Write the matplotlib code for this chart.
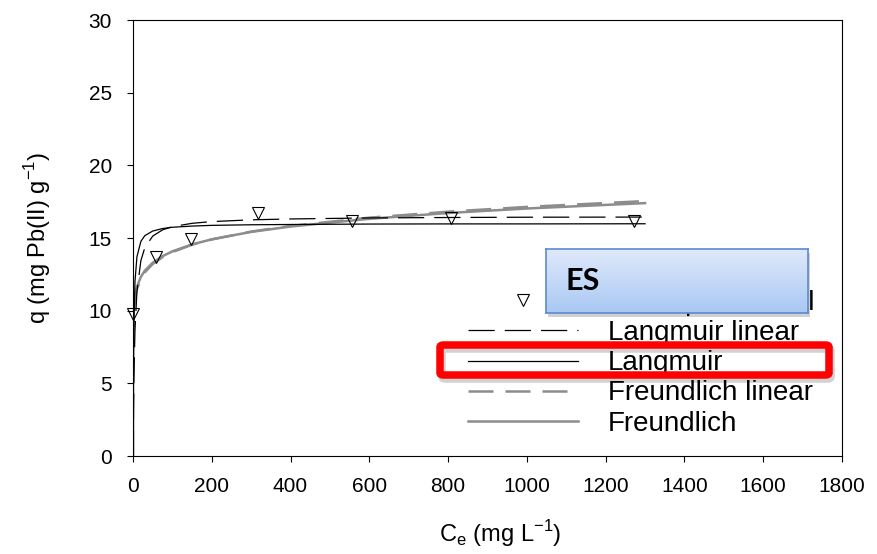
import numpy as np
import matplotlib
matplotlib.use("Agg")
import matplotlib.pyplot as plt
from matplotlib.patches import FancyBboxPatch, Rectangle
from matplotlib.colors import LinearSegmentedColormap

# ---------------- data ----------------
exp_ce = [0, 58, 147, 317, 556, 807, 1272]
exp_q = [9.8, 13.7, 14.9, 16.7, 16.2, 16.4, 16.2]

fit_ce = [0, 0.5, 1, 2, 5, 10, 20, 30, 50, 75, 100, 150, 200, 300, 400, 600, 800, 1000, 1300]
langmuir_linear = [0, 1.64, 2.98, 5.04, 8.64, 11.34, 13.44, 14.33, 15.13, 15.56, 15.78,
                   16.01, 16.13, 16.25, 16.31, 16.38, 16.41, 16.43, 16.44]
langmuir = [0, 3.69, 6.0, 8.73, 12.0, 13.71, 14.77, 15.16, 15.48, 15.65, 15.74,
            15.82, 15.87, 15.91, 15.93, 15.96, 15.97, 15.97, 15.98]
freundlich_linear = [0, 8.85, 9.40, 9.98, 10.81, 11.48, 12.20, 12.64, 13.21, 13.68, 14.03,
                     14.54, 14.90, 15.44, 15.83, 16.40, 16.81, 17.14, 17.54]
freundlich = [0, 9.09, 9.63, 10.20, 11.00, 11.64, 12.33, 12.75, 13.30, 13.75, 14.08,
              14.56, 14.91, 15.42, 15.79, 16.32, 16.72, 17.03, 17.40]

legend_labels = ["ES Experimental", "Langmuir linear", "Langmuir",
                 "Freundlich linear", "Freundlich"]
xticks = [0, 200, 400, 600, 800, 1000, 1200, 1400, 1600, 1800]
yticks = [0, 5, 10, 15, 20, 25, 30]

# ---------------- figure ----------------
plt.rcParams['font.family'] = ['Liberation Sans', 'DejaVu Sans']
W, H = 877, 554
fig = plt.figure(figsize=(W / 100, H / 100), dpi=100)
ax = fig.add_axes([133 / W, 1 - 456 / H, (842 - 133) / W, (456 - 20) / H])

gray = '#8c8c8c'
l_lin, = ax.plot(fit_ce, langmuir_linear, color='black', lw=0.9, zorder=3)
l_lin.set_dashes((21, 8))
l_lan, = ax.plot(fit_ce, langmuir, color='black', lw=0.9, zorder=3)
f_lin, = ax.plot(fit_ce, freundlich_linear, color=gray, lw=1.8, zorder=2)
f_lin.set_dashes((10, 4.8))
f_fr, = ax.plot(fit_ce, freundlich, color=gray, lw=1.8, zorder=2)
pts, = ax.plot(exp_ce, exp_q, linestyle='none', marker='v', markersize=9,
               markerfacecolor='none', markeredgecolor='black', markeredgewidth=0.8,
               zorder=4, clip_on=False)

ax.set_xlim(0, 1800)
ax.set_ylim(0, 30)
ax.set_xticks(xticks)
ax.set_yticks(yticks)
ax.tick_params(axis='both', direction='out', length=4.3, width=0.8, labelsize=15, pad=11,
               top=False, right=False)
for s in ax.spines.values():
    s.set_linewidth(0.8)
    s.set_color('black')

ax.set_xlabel('C$_{\\mathregular{e}}$ (mg L$^{\\mathregular{-1}}$)', fontsize=17)
ax.xaxis.set_label_coords((500 - 133) / (842 - 133), -(518 - 456) / (456 - 20))
ax.set_ylabel('q (mg Pb(II) g$^{\\mathregular{-1}}$)', fontsize=17)
ax.yaxis.set_label_coords(-(133 - 53) / (842 - 133), 0.5)

leg = ax.legend([pts, l_lin, l_lan, f_lin, f_fr], legend_labels,
                loc='upper left', bbox_to_anchor=(468 / W, (H - 290) / H),
                bbox_transform=fig.transFigure, frameon=False, fontsize=20,
                handlelength=3.96, handletextpad=1.08, labelspacing=0.15,
                borderpad=0, borderaxespad=0, numpoints=1)

# ---------------- "ES" call-out box ----------------
bx0, by0, bx1, by1 = 546, 249, 808, 313
shadow = Rectangle(((bx0 + 2) / W, 1 - (by1 + 4) / H), (bx1 - bx0) / W, (by1 - by0) / H,
                   transform=fig.transFigure, facecolor='black', alpha=0.18,
                   edgecolor='none', zorder=2)
fig.patches.append(shadow)
bax = fig.add_axes([bx0 / W, 1 - by1 / H, (bx1 - bx0) / W, (by1 - by0) / H], zorder=5)
grad = np.linspace(0, 1, 64).reshape(-1, 1)
cmap = LinearSegmentedColormap.from_list('esgrad', ['#dfe9fb', '#a9c8f3'])
bax.imshow(grad, aspect='auto', cmap=cmap, extent=[0, 1, 0, 1], origin='upper')
bax.set_xticks([])
bax.set_yticks([])
for s in bax.spines.values():
    s.set_color('#5b8ad0')
    s.set_linewidth(1.2)
bax.text(20 / (bx1 - bx0), 0.5, 'ES', transform=bax.transAxes, fontsize=22,
         fontweight='bold', family=['Lato', 'DejaVu Sans'], va='center', ha='left',
         color='black')

# ---------------- red highlight rectangle ----------------
rx0, ry0, rx1, ry1 = 440, 345, 829, 375
rshadow = FancyBboxPatch(((rx0 + 2) / W, 1 - (ry1 + 4) / H), (rx1 - rx0) / W, (ry1 - ry0) / H,
                         boxstyle='round,pad=0,rounding_size=0.004',
                         transform=fig.transFigure, facecolor='none',
                         edgecolor='black', alpha=0.18, lw=5.4, zorder=6)
fig.patches.append(rshadow)
red = FancyBboxPatch((rx0 / W, 1 - ry1 / H), (rx1 - rx0) / W, (ry1 - ry0) / H,
                     boxstyle='round,pad=0,rounding_size=0.004',
                     transform=fig.transFigure, facecolor='none',
                     edgecolor='#ff0000', lw=5.4, zorder=7)
fig.patches.append(red)

fig.savefig('out.png', dpi=100)
